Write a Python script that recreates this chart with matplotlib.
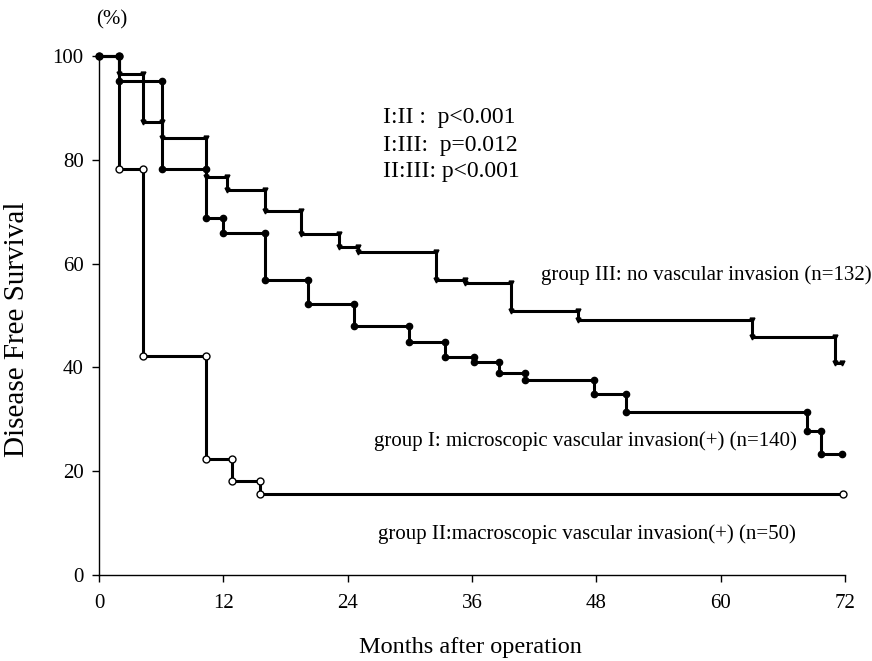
import numpy as np
import matplotlib
matplotlib.use("Agg")
import matplotlib.pyplot as plt

# ---- data (months, survival %) ----
g3_times = [1.9, 4.2, 6.1, 10.3, 12.4, 16.0, 19.5, 23.2, 25.0, 32.5, 35.3, 39.8, 46.2, 63.0, 71.0]
g3_vals = [96.5, 87.3, 84.2, 76.7, 74.2, 70.1, 65.7, 63.2, 62.2, 56.8, 56.3, 50.8, 49.1, 45.9, 40.8]
g3_end = 71.7

g1_times = [1.9, 6.1, 10.3, 12.0, 16.0, 20.2, 24.6, 29.9, 33.4, 36.2, 38.6, 41.1, 47.8, 50.9, 68.3, 69.7]
g1_vals = [95.2, 78.2, 68.8, 65.9, 56.8, 52.2, 48.0, 44.9, 42.0, 41.0, 38.9, 37.6, 34.9, 31.4, 27.7, 23.3]
g1_end = 71.7

g2_times = [1.9, 4.2, 10.3, 12.8, 15.5]
g2_vals = [78.2, 42.2, 22.3, 18.1, 15.6]
g2_end = 71.8

x_ticks = [0, 12, 24, 36, 48, 60, 72]
y_ticks = [0, 20, 40, 60, 80, 100]

label_g3 = "group III: no vascular invasion (n=132)"
label_g1 = "group I: microscopic vascular invasion(+) (n=140)"
label_g2 = "group II:macroscopic vascular invasion(+) (n=50)"
pvals = ["I:II :  p<0.001", "I:III:  p=0.012", "II:III: p<0.001"]

plt.rcParams['font.family'] = ['Liberation Serif', 'DejaVu Serif']

fig = plt.figure(figsize=(8.72, 6.61), dpi=100)
W, H = 872, 661
ax = fig.add_axes([99 / W, 86 / H, 746 / W, 519 / H])


def km(ax, times, vals, end, marker, ms, mfc, z, lw=2.2):
    xs = [0] + list(times) + [end]
    ys = [100] + list(vals) + [vals[-1]]
    ax.step(xs, ys, where='post', color='black', lw=lw, clip_on=False, zorder=z)
    mx, my = [0], [100]
    prev = 100
    for t, v in zip(times, vals):
        mx += [t, t]
        my += [prev, v]
        prev = v
    mx.append(end)
    my.append(vals[-1])
    ax.plot(mx, my, ls='none', marker=marker, ms=ms, mfc=mfc, mec='black',
            mew=1.0, clip_on=False, zorder=z + 0.5)


km(ax, g2_times, g2_vals, g2_end, 'o', 5, 'white', 3)
km(ax, g3_times, g3_vals, g3_end, 'v', 3.5, 'black', 4)
km(ax, g1_times, g1_vals, g1_end, 'o', 4.5, 'black', 5)

ax.set_xlim(0, 72)
ax.set_ylim(0, 100)
ax.set_xticks(x_ticks)
ax.set_yticks(y_ticks)
ax.set_xticklabels([str(t) for t in x_ticks], fontsize=15)
ax.set_yticklabels([str(t) for t in y_ticks], fontsize=15)
for s in ['top', 'right']:
    ax.spines[s].set_visible(False)
for s in ['left', 'bottom']:
    ax.spines[s].set_linewidth(1.0)
ax.tick_params(direction='out', length=5, width=1.0, pad=6)
ax.tick_params(axis='x', pad=9)

fig.text(17.5 / W, 1 - 329 / H, "Disease Free Survival", rotation=90,
         ha='center', va='center', fontsize=21)
fig.text(470 / W, 1 - 648 / H, "Months after operation", ha='center', va='center', fontsize=17.5)
fig.text(96 / W, 1 - 20 / H, "(%)", ha='left', va='center', fontsize=15)

fig.text(541 / W, 1 - 275 / H, label_g3, ha='left', va='center', fontsize=15)
fig.text(374 / W, 1 - 441 / H, label_g1, ha='left', va='center', fontsize=15)
fig.text(378 / W, 1 - 534 / H, label_g2, ha='left', va='center', fontsize=15)
for i, p in enumerate(pvals):
    fig.text(383 / W, 1 - (118 + 27 * i) / H, p, ha='left', va='center', fontsize=17)

fig.savefig("out.png", dpi=100)
